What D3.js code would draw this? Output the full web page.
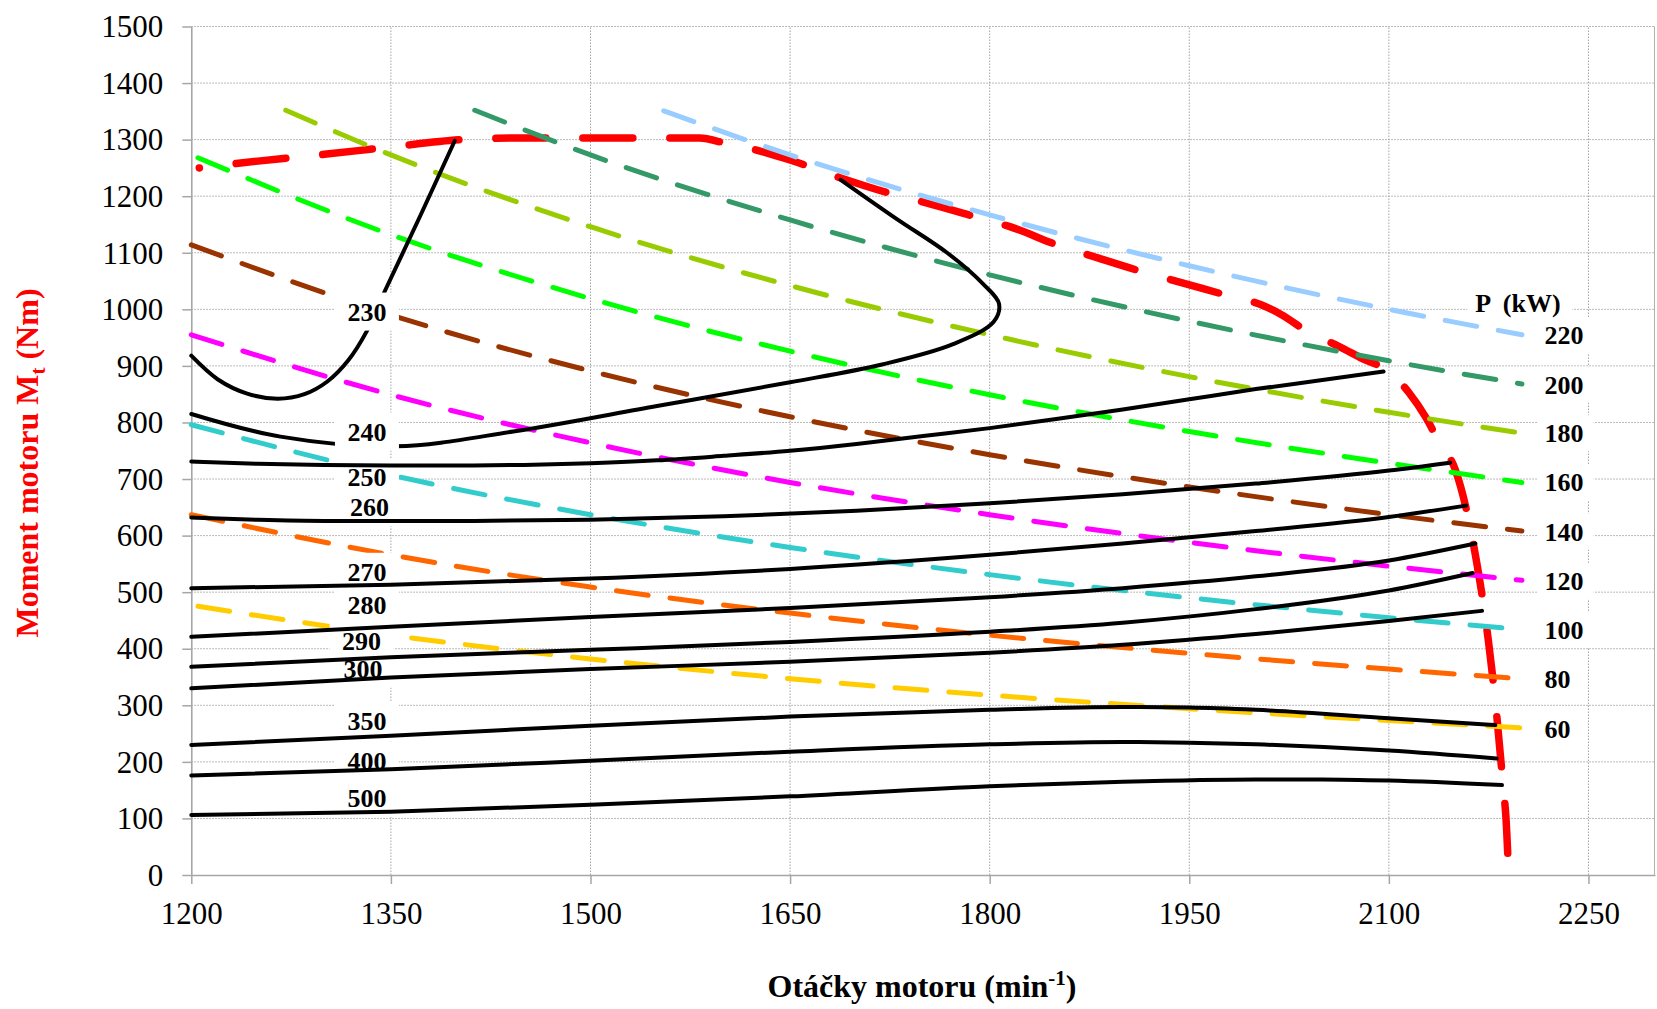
<!DOCTYPE html>
<html>
<head>
<meta charset="utf-8">
<script src="https://cdn.jsdelivr.net/npm/d3@7"></script>
<style>
  body { margin: 0; background: #fff; }
  svg { display: block; font-family: "Liberation Serif", "Times New Roman", serif; }
</style>
</head>
<body>
<script>
// ---------- DATA ----------
const rpmTicks = [1200, 1350, 1500, 1650, 1800, 1950, 2100, 2250];
const torqueTicks = [0, 100, 200, 300, 400, 500, 600, 700, 800, 900, 1000, 1100, 1200, 1300, 1400, 1500];

// full-load torque curve (red)
const fullLoad = [[1206,1250],[1250,1262],[1300,1274],[1350,1287],[1404,1300],[1450,1303],[1500,1303],[1550,1303],[1582,1303],[1601,1294],[1624,1282],[1650,1264],[1687,1233],[1728,1203],[1751,1189],[1793,1161],[1814,1147],[1854,1111],[1877,1094],[1917,1065],[1940,1050],[1981,1023],[2004,1008],[2019,991],[2040,959],[2062,935],[2080,913],[2100,890],[2115,853],[2128,808],[2138,764],[2150,716],[2161,616],[2165,566],[2172,463],[2175,410],[2180,307],[2186,154],[2188,101],[2190,0]];

// constant power lines (kW)
const powerNames = ["220", "200", "180", "160", "140", "120", "100", "80", "60"];
const powerColors = ["#99CCFF", "#339966", "#99CC00", "#00FF00", "#993300", "#FF00FF", "#33CCCC", "#FF6600", "#FFCC00"];
const p220 = [[1555,1351],[1650,1273],[1800,1167],[1950,1077],[2100,1000],[2200,955]];
const p200 = [[1413,1352],[1500,1273],[1650,1158],[1800,1061],[1950,979],[2100,909],[2200,868]];
const p180 = [[1271,1352],[1350,1273],[1500,1146],[1650,1042],[1800,955],[1950,881],[2100,818],[2200,781]];
const p160 = [[1205,1268],[1350,1132],[1500,1019],[1650,926],[1800,849],[1950,784],[2100,728],[2200,694]];
const p140 = [[1200,1114],[1350,990],[1500,891],[1650,810],[1800,743],[1950,686],[2100,637],[2200,608]];
const p120 = [[1200,955],[1350,849],[1500,764],[1650,694],[1800,637],[1950,588],[2100,546],[2200,521]];
const p100 = [[1200,796],[1350,707],[1500,637],[1650,579],[1800,531],[1950,490],[2100,455],[2200,434]];
const p80  = [[1200,637],[1350,566],[1500,509],[1650,463],[1800,424],[1950,392],[2100,364],[2200,347]];
const p60  = [[1205,475],[1350,424],[1500,382],[1650,347],[1800,318],[1950,294],[2100,273],[2200,260]];
const powerSeries = [p220, p200, p180, p160, p140, p120, p100, p80, p60];
const powerLabelRpm = 2217;
const powerLabelNm = [954, 867, 781, 694, 607, 520, 433, 346, 258];
const powerTitle = "P  (kW)";
const powerTitleRpm = 2165;
const powerTitleNm = 1012;

// specific consumption isolines (black)
const c230 = [[1200,918],[1220,876],[1242,851],[1265,842],[1285,850],[1302,872],[1318,910],[1332,962],[1346,1035],[1372,1165],[1398,1298]];
const c240 = [[1200,815],[1267,775],[1354,758],[1442,784],[1550,829],[1650,871],[1720,903],[1772,938],[1803,978],[1807,1010],[1795,1045],[1768,1100],[1730,1160],[1688,1229]];
const c250 = [[1200,731],[1250,727],[1300,725],[1350,724],[1400,724],[1450,725],[1500,728],[1550,733],[1600,741],[1650,750],[1700,762],[1750,776],[1800,790],[1850,806],[1900,823],[1950,841],[2000,859],[2050,875],[2096,890]];
const c260 = [[1200,632],[1250,628],[1300,626],[1350,626],[1400,626],[1500,628],[1600,634],[1700,644],[1800,657],[1900,673],[2000,692],[2100,715],[2146,729]];
const c270 = [[1200,507],[1350,513],[1500,524],[1650,541],[1800,566],[1900,586],[2000,608],[2100,633],[2158,653]];
const c280 = [[1200,421],[1350,439],[1500,456],[1650,472],[1800,491],[1900,507],[2000,528],[2100,556],[2165,586]];
const c290 = [[1200,368],[1350,385],[1500,398],[1650,412],[1800,430],[1900,446],[2000,470],[2100,503],[2163,534]];
const c300 = [[1200,330],[1350,349],[1500,364],[1650,377],[1800,393],[1900,407],[2000,426],[2100,449],[2170,467]];
const c350 = [[1200,230],[1350,246],[1500,264],[1650,280],[1800,292],[1900,297],[1950,296],[2000,292],[2100,277],[2180,265]];
const c400 = [[1200,176],[1350,187],[1500,202],[1650,218],[1800,231],[1900,235],[1950,234],[2000,231],[2100,220],[2181,206]];
const c500 = [[1200,106],[1350,112],[1500,124],[1650,139],[1800,157],[1900,165],[2000,169],[2050,169],[2100,167],[2185,159]];
const contourLabels = ["230", "240", "250", "260", "270", "280", "290", "300", "350", "400", "500"];
const contourLabelRpm = [1332, 1332, 1332, 1334, 1332, 1332, 1328, 1329, 1332, 1332, 1332];
const contourLabelNm = [996, 784, 703, 650, 536, 477, 414, 365, 272, 202, 136];

// ---------- CHART ----------
const W = 1657, H = 1009;
const svg = d3.select("body").append("svg").attr("width", W).attr("height", H);
svg.append("rect").attr("width", W).attr("height", H).attr("fill", "#fff");

const x = d3.scaleLinear().domain([1200, 2300]).range([191.3, 1655]);
const y = d3.scaleLinear().domain([0, 1500]).range([875, 26.5]);

const gridColor = "#a3a3a3";
svg.append("g").selectAll("line").data(torqueTicks.filter(d => d > 0)).join("line")
  .attr("x1", x(1200)).attr("x2", x(2300))
  .attr("y1", d => y(d)).attr("y2", d => y(d))
  .attr("stroke", gridColor).attr("stroke-width", 1).attr("stroke-dasharray", "1.5,1.5");
svg.append("g").selectAll("line").data(rpmTicks.filter(d => d > 1200)).join("line")
  .attr("x1", d => x(d)).attr("x2", d => x(d))
  .attr("y1", y(0)).attr("y2", y(1500))
  .attr("stroke", gridColor).attr("stroke-width", 1).attr("stroke-dasharray", "1.5,1.5");
svg.append("line").attr("x1", x(2300) - 0.5).attr("x2", x(2300) - 0.5)
  .attr("y1", y(0)).attr("y2", y(1500)).attr("stroke", "#b0b0b0").attr("stroke-width", 1);

const axisColor = "#a6a6a6";
const gy = svg.append("g").attr("transform", `translate(${x(1200)},0)`)
  .call(d3.axisLeft(y).tickValues(torqueTicks).tickSize(9).tickSizeOuter(0).tickPadding(19).tickFormat(d3.format("d")));
const gx = svg.append("g").attr("transform", `translate(0,${y(0)})`)
  .call(d3.axisBottom(x).tickValues(rpmTicks).tickSize(9).tickSizeOuter(0).tickFormat(d3.format("d")));
[gx, gy].forEach(g => {
  g.select(".domain").attr("stroke", axisColor).attr("stroke-width", 1.6);
  g.selectAll(".tick line").attr("stroke", axisColor).attr("stroke-width", 1.5);
  g.selectAll("text").attr("fill", "#000").style("font-size", "31px")
    .style("font-family", '"Liberation Serif", "Times New Roman", serif');
});
gx.selectAll("text").attr("y", 49).attr("dy", null);
gy.selectAll("text").attr("dy", "0.33em");

const lineMono = d3.line().x(d => x(d[0])).y(d => y(d[1])).curve(d3.curveMonotoneX);
const lineCR = d3.line().x(d => x(d[0])).y(d => y(d[1])).curve(d3.curveCatmullRom.alpha(0.5));

// red full-load line
svg.append("path").attr("d", lineMono(fullLoad))
  .attr("fill", "none").attr("stroke", "#FF0000").attr("stroke-width", 7.5)
  .attr("stroke-linecap", "round").attr("stroke-dasharray", "50,37").attr("stroke-dashoffset", 49.9);

// power lines
powerSeries.forEach((s, i) => {
  svg.append("path").attr("d", lineMono(s))
    .attr("fill", "none").attr("stroke", powerColors[i]).attr("stroke-width", 5)
    .attr("stroke-linecap", "round").attr("stroke-dasharray", "32,22");
});

const blackStyle = p => p.attr("fill", "none").attr("stroke", "#000").attr("stroke-width", 4)
  .attr("stroke-linecap", "round").attr("stroke-linejoin", "round");

blackStyle(svg.append("path").attr("d", lineCR(c230)));
blackStyle(svg.append("path").attr("d", lineCR(c240)));

const boxes = svg.append("g");
contourLabels.forEach((t, i) => {
  boxes.append("rect")
    .attr("x", x(contourLabelRpm[i]) - 32).attr("y", y(contourLabelNm[i]) - 19)
    .attr("width", 64).attr("height", 38).attr("fill", "#fff");
});
powerNames.forEach((t, i) => {
  const w = t.length * 13 + 17;
  boxes.append("rect")
    .attr("x", x(powerLabelRpm) - 7).attr("y", y(powerLabelNm[i]) - 18)
    .attr("width", w).attr("height", 36).attr("fill", "#fff");
});
boxes.append("rect")
  .attr("x", x(powerTitleRpm) - 8).attr("y", y(powerTitleNm) - 18)
  .attr("width", 105).attr("height", 36).attr("fill", "#fff");

[c250, c260, c270, c280, c290, c300, c350, c400, c500].forEach(s => {
  blackStyle(svg.append("path").attr("d", lineMono(s)));
});

const txt = svg.append("g").attr("font-weight", "bold").attr("font-size", 26).attr("fill", "#000");
contourLabels.forEach((t, i) => {
  txt.append("text").attr("x", x(contourLabelRpm[i])).attr("y", y(contourLabelNm[i]) + 9)
    .attr("text-anchor", "middle").text(t);
});
powerNames.forEach((t, i) => {
  txt.append("text").attr("x", x(powerLabelRpm)).attr("y", y(powerLabelNm[i]) + 9).text(t);
});
txt.append("text").attr("x", x(powerTitleRpm)).attr("y", y(powerTitleNm) + 9)
  .attr("xml:space", "preserve").style("white-space", "pre").text(powerTitle);

const xt = svg.append("text").attr("x", 922).attr("y", 997).attr("text-anchor", "middle")
  .attr("font-weight", "bold").attr("font-size", 32).attr("fill", "#000");
xt.append("tspan").text("Otáčky motoru (min");
xt.append("tspan").attr("font-size", 21).attr("dy", -12).text("-1");
xt.append("tspan").attr("dy", 12).text(")");

const yt = svg.append("text").attr("transform", "translate(38,463) rotate(-90)").attr("text-anchor", "middle")
  .attr("font-weight", "bold").attr("font-size", 32).attr("fill", "#FF0000");
yt.append("tspan").text("Moment motoru M");
yt.append("tspan").attr("font-size", 21).attr("dy", 7).text("t");
yt.append("tspan").attr("dy", -7).text(" (Nm)");
</script>
</body>
</html>
